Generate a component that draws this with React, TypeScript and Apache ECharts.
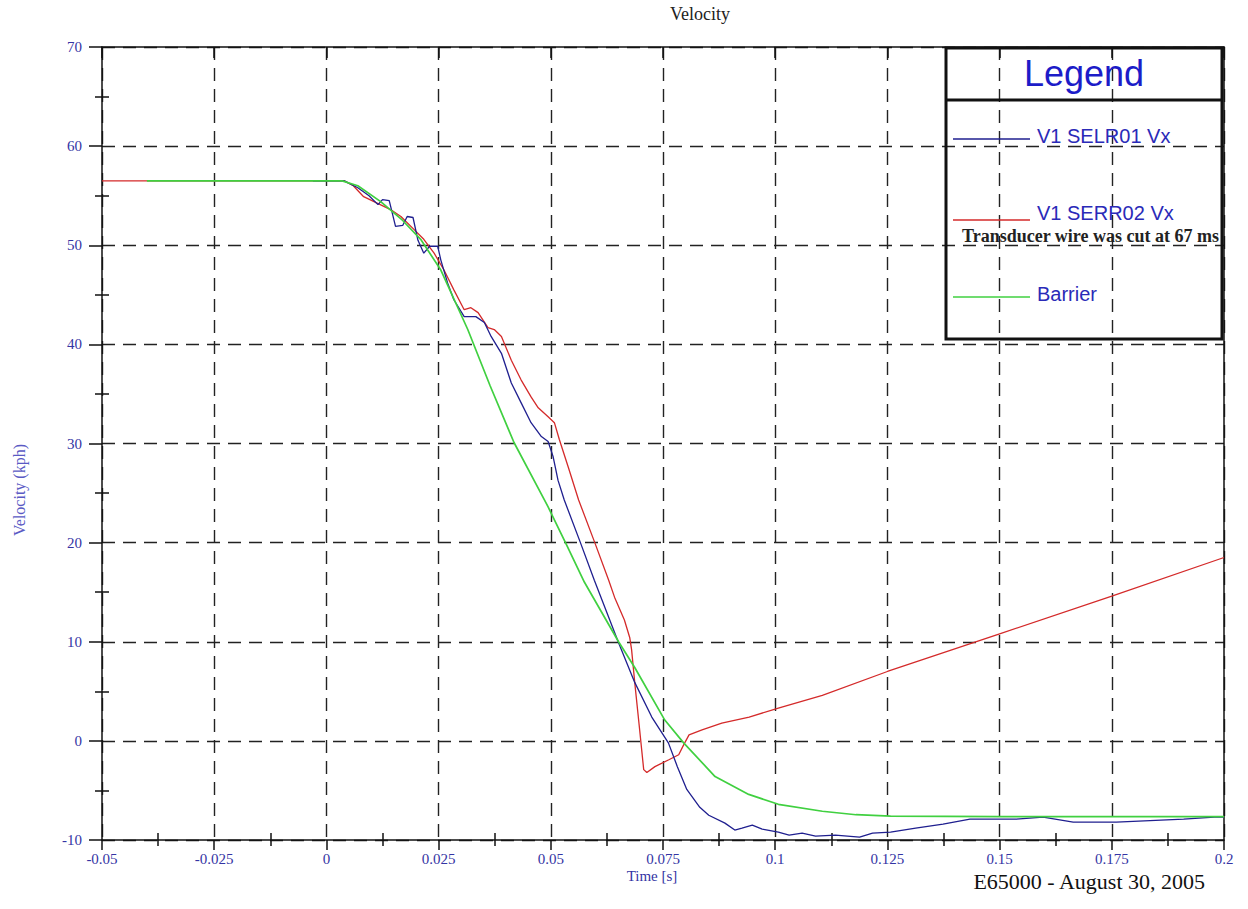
import React, { useEffect, useRef } from "react";
import * as echarts from "echarts";

// ---------- data ----------
const xTickValues = [-0.05, -0.025, 0, 0.025, 0.05, 0.075, 0.1, 0.125, 0.15, 0.175, 0.2];
const yTickValues = [-10, 0, 10, 20, 30, 40, 50, 60, 70];

const seriesNames = ["V1 SELR01 Vx", "V1 SERR02 Vx", "Barrier"];

// V1 SELR01 Vx  [time s, velocity kph]
const selr01: number[][] = [
  [-0.003, 56.5], [0.004, 56.5], [0.007, 55.8], [0.0095, 55.0], [0.0115, 54.1], [0.0125, 54.6],
  [0.014, 54.5], [0.0154, 51.9], [0.017, 52.0], [0.018, 52.9], [0.0193, 52.8], [0.0204, 50.5],
  [0.0217, 49.2], [0.023, 49.9], [0.0248, 49.9], [0.0255, 48.5], [0.027, 46.2], [0.0284, 44.5],
  [0.0307, 42.8], [0.0333, 42.8], [0.0352, 42.2], [0.0367, 40.8], [0.039, 39.1], [0.0412, 36.1],
  [0.0434, 34.1], [0.0456, 32.1], [0.0479, 30.7], [0.0494, 30.2], [0.0505, 28.7], [0.0516, 26.3],
  [0.053, 24.3], [0.0566, 20.0], [0.0597, 16.2], [0.0651, 9.9], [0.0687, 5.9], [0.0725, 2.4],
  [0.0762, -0.2], [0.0782, -2.6], [0.0803, -4.9], [0.0832, -6.7], [0.0852, -7.5], [0.0888, -8.3],
  [0.091, -9.0], [0.0926, -8.8], [0.0949, -8.5], [0.0971, -8.9], [0.1007, -9.2], [0.1031, -9.5],
  [0.106, -9.3], [0.109, -9.6], [0.1134, -9.5], [0.1188, -9.7], [0.1217, -9.3], [0.1257, -9.2],
  [0.1313, -8.8], [0.1374, -8.4], [0.1434, -7.9], [0.1537, -7.9], [0.1597, -7.7], [0.1664, -8.2],
  [0.176, -8.2], [0.191, -7.9], [0.1978, -7.7], [0.2, -7.7],
];

// V1 SERR02 Vx
const serr02: number[][] = [
  [-0.05, 56.5], [0.004, 56.5], [0.006, 56.0], [0.0083, 54.9], [0.0143, 53.6], [0.0166, 52.9],
  [0.0195, 51.6], [0.0217, 50.6], [0.024, 49.2], [0.0262, 47.5], [0.0284, 45.5], [0.0307, 43.5],
  [0.0322, 43.7], [0.0338, 43.2], [0.036, 41.7], [0.0374, 41.5], [0.039, 40.8], [0.0412, 38.4],
  [0.0434, 36.4], [0.0456, 34.7], [0.0472, 33.6], [0.0494, 32.7], [0.0508, 32.1], [0.0519, 30.4],
  [0.0539, 27.6], [0.0562, 24.3], [0.0598, 20.0], [0.0629, 16.2], [0.0642, 14.5], [0.0664, 12.2],
  [0.0676, 10.4], [0.068, 9.2], [0.0687, 5.9], [0.0698, 1.1], [0.0707, -2.9], [0.0714, -3.2],
  [0.0732, -2.6], [0.0763, -1.9], [0.0785, -1.4], [0.0796, -0.4], [0.0808, 0.6], [0.0837, 1.1],
  [0.0881, 1.8], [0.0942, 2.4], [0.1007, 3.3], [0.1105, 4.6], [0.125, 7.0], [0.15, 10.8],
  [0.175, 14.6], [0.2, 18.5],
];

// Barrier
const barrier: number[][] = [
  [-0.04, 56.5], [0.0035, 56.5], [0.007, 56.0], [0.0121, 54.4], [0.017, 52.5], [0.021, 50.6],
  [0.0255, 47.5], [0.0315, 41.5], [0.0365, 35.8], [0.0418, 30.1], [0.0494, 23.6], [0.0537, 19.6],
  [0.0575, 16.0], [0.0651, 10.0], [0.0687, 7.4], [0.0754, 2.1], [0.0796, -0.2], [0.0866, -3.6],
  [0.0941, -5.4], [0.1007, -6.4], [0.1105, -7.1], [0.118, -7.45], [0.1257, -7.6], [0.15, -7.65],
  [0.2, -7.65],
];

const colors = ["#1f1f8f", "#d42a2a", "#40d040"];

const labelColor = "#3434a4";
const serif = "'Liberation Serif', 'Times New Roman', serif";
const sans = "'Liberation Sans', Arial, sans-serif";

export default function App() {
  const ref = useRef<HTMLDivElement>(null);

  useEffect(() => {
    if (!ref.current) return;
    const chart = echarts.init(ref.current, undefined, { renderer: "svg" });
    const axisColor = "#111";
    const xMin = xTickValues[0];
    const xMax = xTickValues[xTickValues.length - 1];
    const xInt = xTickValues[1] - xTickValues[0];
    const yMin = yTickValues[0];
    const yMax = yTickValues[yTickValues.length - 1];
    const yInt = yTickValues[1] - yTickValues[0];
    const fmt = (v: number) => String(+v.toFixed(4));

    const option: any = {
      animation: false,
      backgroundColor: "#ffffff",
      grid: { left: 102, top: 47, width: 1122, height: 793, containLabel: false },
      xAxis: [
        {
          type: "value", min: xMin, max: xMax, interval: xInt, position: "bottom",
          axisLine: { show: true, onZero: false, lineStyle: { color: axisColor, width: 1.5 } },
          axisTick: { show: true, inside: false, length: 10, lineStyle: { color: axisColor, width: 1.5 } },
          minorTick: { show: true, splitNumber: 2, length: 6, lineStyle: { color: axisColor, width: 1.5 } },
          splitLine: { show: true, lineStyle: { type: [13, 8], color: "#222", width: 1.4 } },
          axisLabel: { margin: 11, color: labelColor, fontFamily: serif, fontSize: 15, formatter: fmt },
        },
        {
          type: "value", min: xMin, max: xMax, interval: xInt, position: "bottom",
          axisLine: { show: false, onZero: false },
          axisTick: { show: false, inside: true, length: 7 },
          minorTick: { show: true, splitNumber: 2, length: 7, lineStyle: { color: axisColor, width: 1.5 } },
          splitLine: { show: false },
          axisLabel: { show: false },
        },
        {
          type: "value", min: xMin, max: xMax, interval: xInt, position: "top",
          axisLine: { show: true, onZero: false, lineStyle: { color: axisColor, width: 1.5 } },
          axisTick: { show: true, inside: true, length: 11, lineStyle: { color: axisColor, width: 1.5 } },
          minorTick: { show: false },
          splitLine: { show: false },
          axisLabel: { show: false },
        },
      ],
      yAxis: [
        {
          type: "value", min: yMin, max: yMax, interval: yInt, position: "left",
          axisLine: { show: true, onZero: false, lineStyle: { color: axisColor, width: 1.5 } },
          axisTick: { show: true, inside: false, length: 13, lineStyle: { color: axisColor, width: 1.5 } },
          minorTick: { show: true, splitNumber: 2, length: 7, lineStyle: { color: axisColor, width: 1.5 } },
          splitLine: { show: true, lineStyle: { type: [13, 8], color: "#222", width: 1.4 } },
          axisLabel: { margin: 20, color: labelColor, fontFamily: serif, fontSize: 15 },
        },
        {
          type: "value", min: yMin, max: yMax, interval: yInt, position: "left",
          axisLine: { show: false, onZero: false },
          axisTick: { show: false, inside: true, length: 7 },
          minorTick: { show: true, splitNumber: 2, length: 7, lineStyle: { color: axisColor, width: 1.5 } },
          splitLine: { show: false },
          axisLabel: { show: false },
        },
        {
          type: "value", min: yMin, max: yMax, interval: yInt, position: "right",
          axisLine: { show: true, onZero: false, lineStyle: { color: axisColor, width: 1.5 } },
          axisTick: { show: false },
          minorTick: { show: false },
          splitLine: { show: false },
          axisLabel: { show: false },
        },
      ],
      series: [
        {
          name: seriesNames[1], type: "line", data: serr02, xAxisIndex: 0, yAxisIndex: 0,
          showSymbol: false, lineStyle: { color: colors[1], width: 1.3 }, z: 3,
        },
        {
          name: seriesNames[0], type: "line", data: selr01, xAxisIndex: 0, yAxisIndex: 0,
          showSymbol: false, lineStyle: { color: colors[0], width: 1.3 }, z: 4,
        },
        {
          name: seriesNames[2], type: "line", data: barrier, xAxisIndex: 0, yAxisIndex: 0,
          showSymbol: false, lineStyle: { color: colors[2], width: 1.7 }, z: 5,
        },
      ],
      graphic: [
        {
          type: "text", x: 700, y: 14,
          style: { text: "Velocity", fill: "#222", font: `18px ${serif}`, align: "center", verticalAlign: "middle" },
        },
        {
          type: "text", x: 19, y: 490, rotation: Math.PI / 2,
          style: { text: "Velocity (kph)", fill: "#5a5ac4", font: `16px ${serif}`, align: "center", verticalAlign: "middle" },
        },
        {
          type: "text", x: 652, y: 876,
          style: { text: "Time [s]", fill: labelColor, font: `15px ${serif}`, align: "center", verticalAlign: "middle" },
        },
        {
          type: "text", x: 1205, y: 881,
          style: { text: "E65000 - August 30, 2005", fill: "#111", font: `22px ${serif}`, align: "right", verticalAlign: "middle" },
        },
        // legend box
        {
          type: "rect", shape: { x: 946, y: 48, width: 276, height: 291 },
          style: { fill: "none", stroke: "#111", lineWidth: 3 }, z: 10,
        },
        {
          type: "line", shape: { x1: 946, y1: 100, x2: 1222, y2: 100 },
          style: { stroke: "#111", lineWidth: 3 }, z: 10,
        },
        {
          type: "text", x: 1084, y: 73, z: 10,
          style: { text: "Legend", fill: "#1c1cc8", font: `36px ${sans}`, align: "center", verticalAlign: "middle" },
        },
        {
          type: "line", shape: { x1: 953, y1: 139, x2: 1030, y2: 139 },
          style: { stroke: colors[0], lineWidth: 1.4 }, z: 10,
        },
        {
          type: "text", x: 1037, y: 136, z: 10,
          style: { text: seriesNames[0], fill: "#2a2ab8", font: `20px ${sans}`, align: "left", verticalAlign: "middle" },
        },
        {
          type: "line", shape: { x1: 953, y1: 220, x2: 1030, y2: 220 },
          style: { stroke: colors[1], lineWidth: 1.4 }, z: 10,
        },
        {
          type: "text", x: 1037, y: 213, z: 10,
          style: { text: seriesNames[1], fill: "#2a2ab8", font: `20px ${sans}`, align: "left", verticalAlign: "middle" },
        },
        {
          type: "text", x: 962, y: 236, z: 11,
          style: { text: "Transducer wire was cut at 67 ms", fill: "#222", font: `bold 18px ${serif}`, align: "left", verticalAlign: "middle" },
        },
        {
          type: "line", shape: { x1: 953, y1: 297, x2: 1030, y2: 297 },
          style: { stroke: colors[2], lineWidth: 1.4 }, z: 10,
        },
        {
          type: "text", x: 1037, y: 294, z: 10,
          style: { text: seriesNames[2], fill: "#2a2ab8", font: `20px ${sans}`, align: "left", verticalAlign: "middle" },
        },
      ],
    };

    chart.setOption(option);
    return () => chart.dispose();
  }, []);

  return (
    <div
      ref={ref}
      style={{ position: "fixed", left: 0, top: 0, width: 1248, height: 909, background: "#fff" }}
    />
  );
}
